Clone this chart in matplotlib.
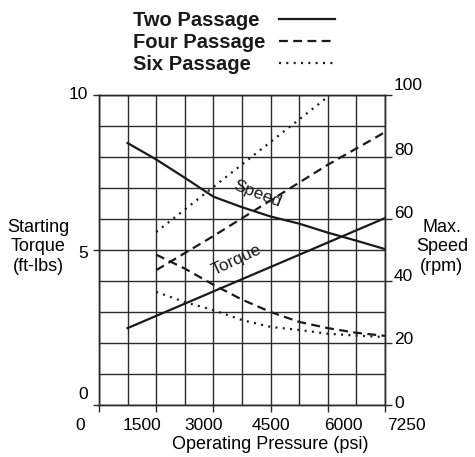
import numpy as np
import matplotlib
matplotlib.use('Agg')
import matplotlib.pyplot as plt
from matplotlib.ticker import FixedLocator
from matplotlib.transforms import ScaledTranslation

plt.rcParams['font.family'] = ['Liberation Sans', 'DejaVu Sans']

# data (pressure in psi)
two_torque_p = [750, 7250]
two_torque = [2.48, 6.03]
two_speed_p = [750, 1500, 2250, 3000, 3750, 4500, 5250, 6000, 6625, 7250]
two_speed = [84.5, 79.2, 73.3, 67.2, 63.8, 60.8, 58.5, 55.6, 53.0, 50.3]

four_torque_p = [1500, 2250, 3000, 3750, 4500, 5250, 6000, 6625, 7250]
four_torque = [4.85, 4.4, 3.88, 3.4, 3.0, 2.68, 2.48, 2.33, 2.23]
four_speed_p = [1500, 3000, 4500, 6000, 7250]
four_speed = [43.5, 54.5, 66.0, 77.5, 88.0]

six_torque_p = [1500, 2250, 3000, 3750, 4500, 5250, 6000, 6625, 7250]
six_torque = [3.65, 3.32, 3.06, 2.74, 2.52, 2.42, 2.3, 2.24, 2.19]
six_speed_p = [1500, 6000]
six_speed = [55.8, 99.4]

series_labels = ['Two Passage', 'Four Passage', 'Six Passage']
x_ticks = [0, 1500, 3000, 4500, 6000, 7250]
x_minor = [750, 2250, 3750, 5250, 6625]
x_ticklabels = ['0', '1500', '3000', '4500', '6000', '7250']
torque_ticks = [0, 5, 10]
speed_ticks = [0, 20, 40, 60, 80, 100]

ink = '#1a1a1a'
solid = '-'
dashed = (0, (4.0, 2.4))
dotted = (0, (0.9, 2.4))
lw = 1.6

fig = plt.figure(figsize=(4.75, 4.57), dpi=100)
ax = fig.add_axes([99/475, 52/457, 286/475, 310/457])

# the last grid cell only spans 6000-7250 psi
ax.set_xscale('function', functions=(lambda x: np.interp(x, [0, 6000, 7250], [0, 6000, 7500]),
                                     lambda x: np.interp(x, [0, 6000, 7500], [0, 6000, 7250])))
ax.set_xlim(0, 7250)
ax.set_ylim(0, 10)
ax2 = ax.twinx()
ax2.set_ylim(0, 100)

ax.plot(two_torque_p, two_torque, color=ink, lw=lw, ls=solid)
ax.plot(four_torque_p, four_torque, color=ink, lw=lw, ls=dashed)
ax.plot(six_torque_p, six_torque, color=ink, lw=lw, ls=dotted)
l_two, = ax2.plot(two_speed_p, two_speed, color=ink, lw=lw, ls=solid)
l_four, = ax2.plot(four_speed_p, four_speed, color=ink, lw=lw, ls=dashed)
l_six, = ax2.plot(six_speed_p, six_speed, color=ink, lw=lw, ls=dotted)

ax.text(4150, 6.82, 'Speed', rotation=-21, ha='center', va='center',
        rotation_mode='anchor', fontsize=12.5, color=ink)
ax.text(3620, 4.68, 'Torque', rotation=25, ha='center', va='center',
        rotation_mode='anchor', fontsize=12.5, color=ink)

# grid + ticks
ax.xaxis.set_major_locator(FixedLocator(x_ticks))
ax.xaxis.set_minor_locator(FixedLocator(x_minor))
ax.set_xticklabels(x_ticklabels)
ax.yaxis.set_major_locator(FixedLocator(torque_ticks))
ax.yaxis.set_minor_locator(FixedLocator(range(11)))
ax2.yaxis.set_major_locator(FixedLocator(speed_ticks))
ax.grid(True, which='both', color='#2a2a2a', lw=1.0)
ax.set_axisbelow(True)
ax.tick_params(which='major', length=4, width=1.0, color='#2a2a2a', labelsize=12.5, pad=3.6)
ax.tick_params(axis='x', which='major', length=5, pad=4)
ax.tick_params(which='minor', length=0)
ax2.tick_params(length=5, width=1.0, color='#2a2a2a', labelsize=12.5, pad=1.5)
for a in (ax, ax2):
    for s in a.spines.values():
        s.set_color('#2a2a2a')
        s.set_linewidth(1.0)

ax.set_xlabel('Operating Pressure (psi)', fontsize=13, va='center')
ax.xaxis.set_label_coords(0.598, -0.129)
ax.set_ylabel('Starting\nTorque\n(ft-lbs)', fontsize=13, rotation=0, ha='center', va='center')
ax.yaxis.set_label_coords(-0.213, 0.51)
ax2.set_ylabel('Max.\nSpeed\n(rpm)', fontsize=13, rotation=0, ha='center', va='center')
ax2.yaxis.set_label_coords(1.199, 0.51)

# the original tick labels sit a little off their ticks
x_dx = [-19, -14, -10, 0, 16, 21]
for lab, dx in zip(ax.get_xticklabels(), x_dx):
    lab.set_transform(lab.get_transform() + ScaledTranslation(dx/100, 0, fig.dpi_scale_trans))
left_dy = [12, -2, 2]
for lab, dy in zip(ax.get_yticklabels(), left_dy):
    lab.set_transform(lab.get_transform() + ScaledTranslation(0, dy/100, fig.dpi_scale_trans))
right_dy = [3, 5, 6, 7, 8, 11]
for lab, dy in zip(ax2.get_yticklabels(), right_dy):
    lab.set_transform(lab.get_transform() + ScaledTranslation(0, dy/100, fig.dpi_scale_trans))

leg = fig.legend([l_two, l_four, l_six], series_labels, loc='upper left',
                 bbox_to_anchor=(133/475, 1 - 11/457), frameon=False, markerfirst=False,
                 prop=dict(weight='bold', size=14.5), handlelength=2.8,
                 handletextpad=0.6, labelspacing=0.15, borderpad=0, borderaxespad=0)
# text left-aligned, line samples lined up on the right
for col in leg._legend_handle_box.get_children():
    for row in col.get_children():
        row.mode = 'expand'
        row.width = 202
for t in leg.get_texts():
    t.set_color(ink)

fig.savefig('out.png', dpi=100)
